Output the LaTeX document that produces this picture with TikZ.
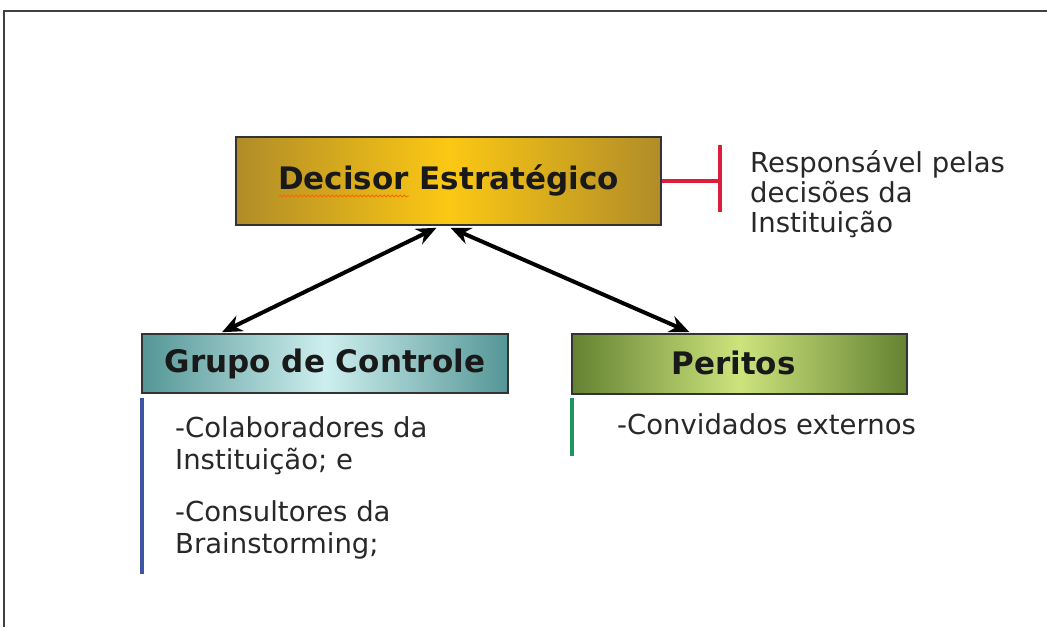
\documentclass[tikz,border=0pt]{standalone}
\usepackage{fontspec}
\setmainfont{DejaVu Sans}
\usetikzlibrary{arrows.meta,decorations.pathmorphing}
\definecolor{goldedge}{RGB}{176,140,40}
\definecolor{goldmid}{RGB}{252,200,20}
\definecolor{tealedge}{RGB}{85,150,150}
\definecolor{tealmid}{RGB}{205,238,238}
\definecolor{greenedge}{RGB}{100,130,50}
\definecolor{greenmid}{RGB}{205,228,125}
\definecolor{barred}{RGB}{220,30,60}
\definecolor{barblue}{RGB}{60,85,165}
\definecolor{bargreen}{RGB}{30,150,95}
\definecolor{txt}{RGB}{40,40,40}
\tikzset{
  rolebox/.style={draw=black!80, line width=1.6pt, inner sep=0pt, font=\bfseries\fontsize{31}{34}\selectfont, text=black!90},
  desc/.style={inner sep=0pt, align=left, text=txt, font=\fontsize{27.5}{32}\selectfont},
  link/.style={line width=4pt, {Stealth[length=20pt,width=17pt]}-{Stealth[length=20pt,width=17pt]}},
  bar/.style={line width=4.5pt}
}
\begin{document}
\begin{tikzpicture}[x=1pt,y=-1pt]
\useasboundingbox (0,0) rectangle (1047,627);
\fill[white] (0,0) rectangle (1047,627);
\draw[black!75, line width=2pt] (4,627) -- (4,11) -- (1047,11);

\node[rolebox, minimum width=425pt, minimum height=88pt,
      left color=goldedge, right color=goldedge, middle color=goldmid]
      (d) at (448.5,181) {\raisebox{7pt}{Decisor Estratégico}};
\node[rolebox, minimum width=366pt, minimum height=59pt,
      left color=tealedge, right color=tealedge, middle color=tealmid]
      (g) at (325,363.5) {Grupo de Controle};
\node[rolebox, minimum width=335pt, minimum height=60pt,
      left color=greenedge, right color=greenedge, middle color=greenmid]
      (p) at (739.5,364) {\hspace*{-12pt}\raisebox{3pt}{Peritos}};

\draw[orange!80!red, line width=0.9pt, decorate, decoration={snake, amplitude=1pt, segment length=4pt}]
  (279,196) -- (409,196);

\draw[link] ([xshift=-12pt,yshift=-2pt]d.south) -- ([xshift=-103pt,yshift=1pt]g.north);
\draw[link] ([xshift=2pt,yshift=-2pt]d.south) -- ([xshift=-50pt,yshift=1pt]p.north);

\coordinate (rj) at (720,181);
\draw[barred, line width=4pt] (d.east) -- (rj);
\draw[barred, bar] (720,145) -- (720,212);
\node[desc, anchor=north west, font=\fontsize{27.5}{30}\selectfont] (resp) at (750,150) {Responsável pelas\\decisões da\\Instituição};

\draw[barblue, bar] (142,398) -- (142,574);
\node[desc, anchor=north west] (colab) at (175,416) {-Colaboradores da\\Instituição; e};
\node[desc, anchor=north west] (cons) at (175,500) {-Consultores da\\Brainstorming;};

\draw[bargreen, bar] (572,398) -- (572,456);
\node[desc, anchor=north west] (conv) at (617,413) {-Convidados externos};
\end{tikzpicture}
\end{document}
